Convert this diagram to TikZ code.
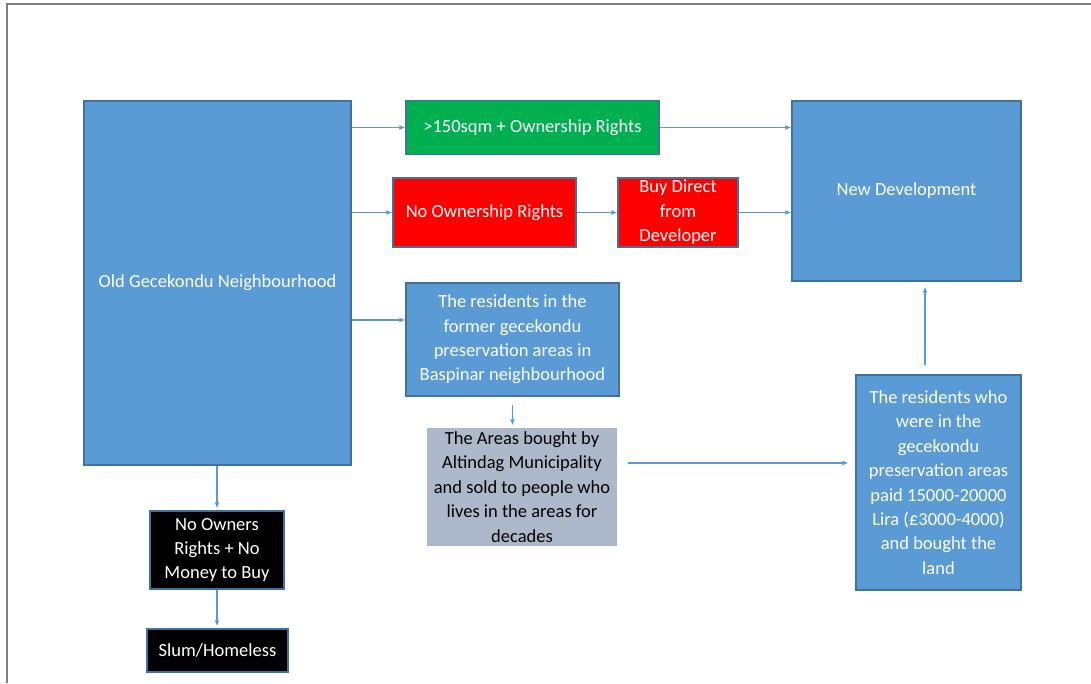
\documentclass[tikz,border=0pt]{standalone}
\usepackage{fontspec}
\setmainfont{Carlito}
\usetikzlibrary{arrows.meta}
\definecolor{boxblue}{HTML}{5B9BD5}
\definecolor{boxedge}{HTML}{41719C}
\definecolor{boxgreen}{HTML}{00B050}
\definecolor{boxred}{HTML}{FF0000}
\definecolor{boxgray}{HTML}{ADB9CA}
\definecolor{framegray}{HTML}{7F7F7F}
\tikzset{
  box/.style={draw=boxedge, line width=1.2pt, rectangle, inner sep=0pt, align=center,
    text=white, font=\fontsize{18.5}{24.4}\selectfont},
  arr/.style={draw=boxblue, line width=1.3pt, -{Latex[length=6pt,width=5pt]}},
}
\begin{document}
\begin{tikzpicture}[x=1pt,y=-1pt]
\useasboundingbox (0,0) rectangle (1091,683);
\fill[white] (0,0) rectangle (1091,683);
\draw[framegray, line width=2pt] (6.5,683) -- (6.5,3.5) -- (1091,3.5);

\node[box, fill=boxblue, minimum width=267, minimum height=364] (old) at (217.5,283) {Old Gecekondu Neighbourhood};
\node[box, fill=boxgreen, minimum width=253, minimum height=54] (green) at (532.5,127.5) {>150sqm + Ownership Rights};
\node[box, fill=boxblue, minimum width=229, minimum height=180] (newdev) at (906.5,191) {New Development};
\node[box, fill=boxred, minimum width=183, minimum height=69] (noown) at (484.5,212.5) {No Ownership Rights};
\node[box, fill=boxred, minimum width=120, minimum height=69] (buy) at (678,212.5) {Buy Direct\\from\\Developer};
\node[box, fill=boxblue, minimum width=213, minimum height=113] (res) at (512.5,339.5) {The residents in the\\former gecekondu\\preservation areas in\\Baspinar neighbourhood};
\node[box, draw=none, fill=boxgray, text=black, minimum width=190, minimum height=118] (areas) at (522,487) {The Areas bought by\\Altindag Municipality\\and sold to people who\\lives in the areas for\\decades};
\node[box, fill=boxblue, minimum width=165, minimum height=215] (paid) at (938.5,482.5) {The residents who\\were in the\\gecekondu\\preservation areas\\paid 15000-20000\\Lira (£3000-4000)\\and bought the\\land};
\node[box, fill=black, minimum width=134, minimum height=78] (nomoney) at (217,550) {No Owners\\Rights + No\\Money to Buy};
\node[box, fill=black, minimum width=141, minimum height=43] (slum) at (217.5,650.5) {Slum/Homeless};

\draw[arr] (old.east |- green.west) -- (green.west);
\draw[arr] (old.east |- noown.west) -- (noown.west);
\draw[arr] (noown.east) -- (buy.west);
\draw[arr] (green.east) -- (newdev.west |- green.east);
\draw[arr] (buy.east) -- (newdev.west |- buy.east);
\coordinate (resy) at (0,320);
\draw[arr] (old.east |- resy) -- (res.west |- resy);
\draw[arr, shorten <=8pt, shorten >=2pt] (res.south) -- (res.south |- areas.north);
\coordinate (areay) at (0,463);
\draw[arr, shorten <=10pt, shorten >=7pt] (areas.east |- areay) -- (paid.west |- areay);
\coordinate (upx) at (925,0);
\draw[arr, shorten <=9pt, shorten >=5pt] (upx |- paid.north) -- (upx |- newdev.south);
\draw[arr, shorten >=2pt] (old.south -| nomoney.north) -- (nomoney.north);
\draw[arr, shorten >=2pt] (nomoney.south) -- (nomoney.south |- slum.north);
\end{tikzpicture}
\end{document}
